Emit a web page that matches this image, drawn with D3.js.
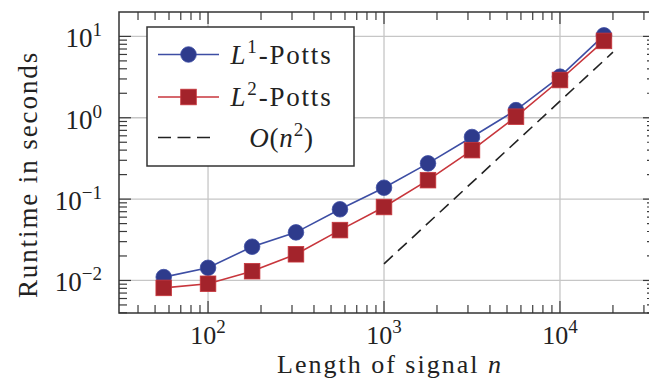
<!DOCTYPE html>
<html><head><meta charset="utf-8">
<script src="https://cdn.jsdelivr.net/npm/d3@7"></script>
<style>html,body{margin:0;padding:0;background:#fff}svg{display:block}
svg text{font-family:"Liberation Serif","DejaVu Serif",serif;fill:#222}</style>
</head><body>
<svg id="c" width="649" height="379"></svg>
<script>
const signalLength = [56, 100, 178, 316, 562, 1000, 1778, 3162, 5623, 10000, 17783];
const l1Runtime = [0.011, 0.0143, 0.026, 0.039, 0.075, 0.138, 0.275, 0.58, 1.24, 3.2, 10.3];
const l2Runtime = [0.0081, 0.0091, 0.013, 0.021, 0.0416, 0.080, 0.171, 0.40, 1.03, 2.91, 8.8];
const refLength = [1000, 20000];
const refRuntime = [0.016, 6.4];
const xTickExp = [2, 3, 4];
const yTickExp = [-2, -1, 0, 1];
const seriesNames = ["L", "1", "-Potts", "L", "2", "-Potts", "O(n", "2", ")"];

const svg = d3.select("#c");
const L = 119, R = 655, T = 12, B = 313;
const x = d3.scaleLog().domain([Math.pow(10, 1.494), Math.pow(10, 4.54)]).range([L, R]);
const y = d3.scaleLog().domain([Math.pow(10, -2.4), Math.pow(10, 1.3)]).range([B, T]);

const blueLine = "#3d4ea4", blueFill = "#2e3b8c";
const redLine = "#c8363c", redFill = "#a3232b";
const FS = 27, SUP = 19, TFS = 26;

// grid
const g = svg.append("g");
g.selectAll(".gx").data(xTickExp).enter().append("line")
  .attr("x1", d => x(Math.pow(10, d))).attr("x2", d => x(Math.pow(10, d)))
  .attr("y1", T).attr("y2", B).attr("stroke", "#c6c6c6").attr("stroke-width", 1.3);
g.selectAll(".gy").data(yTickExp).enter().append("line")
  .attr("y1", d => y(Math.pow(10, d))).attr("y2", d => y(Math.pow(10, d)))
  .attr("x1", L).attr("x2", R).attr("stroke", "#c6c6c6").attr("stroke-width", 1.3);

// ticks
const xMinor = [], yMinor = [];
for (let e = 1; e <= 4; e++) for (let m = 2; m <= 9; m++) {
  const v = m * Math.pow(10, e);
  if (v > x.domain()[0] && v < x.domain()[1]) xMinor.push(v);
}
for (let e = -3; e <= 1; e++) for (let m = 2; m <= 9; m++) {
  const v = m * Math.pow(10, e);
  if (v > y.domain()[0] && v < y.domain()[1]) yMinor.push(v);
}
const tk = svg.append("g").attr("stroke", "#3a3a3a").attr("stroke-width", 1.2);
function xt(vals, len) {
  vals.forEach(v => {
    tk.append("line").attr("x1", x(v)).attr("x2", x(v)).attr("y1", B).attr("y2", B - len);
    tk.append("line").attr("x1", x(v)).attr("x2", x(v)).attr("y1", T).attr("y2", T + len);
  });
}
function yt(vals, len) {
  vals.forEach(v => {
    tk.append("line").attr("y1", y(v)).attr("y2", y(v)).attr("x1", L).attr("x2", L + len);
    tk.append("line").attr("y1", y(v)).attr("y2", y(v)).attr("x1", R).attr("x2", R - len);
  });
}
xt(xMinor, 8); xt(xTickExp.map(e => Math.pow(10, e)), 12);
yt(yMinor, 8); yt(yTickExp.map(e => Math.pow(10, e)), 12);

// frame
svg.append("rect").attr("x", L).attr("y", T).attr("width", R - L).attr("height", B - T)
  .attr("fill", "none").attr("stroke", "#333").attr("stroke-width", 1.5);

// tick labels
function pow10(sel, e) {
  sel.append("tspan").text("10");
  sel.append("tspan").attr("font-size", SUP + "px").attr("dy", -11).text(e < 0 ? "\u2212" + (-e) : String(e));
}
xTickExp.forEach(e => {
  const t = svg.append("text").attr("x", x(Math.pow(10, e))).attr("y", 344)
    .attr("text-anchor", "middle").attr("font-size", TFS + "px");
  pow10(t, e);
});
yTickExp.forEach(e => {
  const t = svg.append("text").attr("x", 102).attr("y", y(Math.pow(10, e)) + 11)
    .attr("text-anchor", "end").attr("font-size", FS + "px");
  pow10(t, e);
});

// axis titles
const xt1 = svg.append("text").attr("x", 390).attr("y", 373).attr("text-anchor", "middle")
  .attr("font-size", TFS + "px").attr("letter-spacing", 2);
xt1.append("tspan").text("Length of signal ");
xt1.append("tspan").attr("font-style", "italic").text("n");
svg.append("text").attr("transform", "translate(37,174.5) rotate(-90)").attr("text-anchor", "middle")
  .attr("font-size", FS + "px").attr("letter-spacing", 1.9).text("Runtime in seconds");

// series
const line = d3.line().x(d => x(d[0])).y(d => y(d[1]));
const l1 = signalLength.map((n, i) => [n, l1Runtime[i]]);
const l2 = signalLength.map((n, i) => [n, l2Runtime[i]]);
const ref = refLength.map((n, i) => [n, refRuntime[i]]);

svg.append("path").datum(ref).attr("d", line).attr("fill", "none")
  .attr("stroke", "#222").attr("stroke-width", 1.6).attr("stroke-dasharray", "12,7");
svg.append("path").datum(l1).attr("d", line).attr("fill", "none").attr("stroke", blueLine).attr("stroke-width", 1.6);
svg.selectAll(".c1").data(l1).enter().append("circle")
  .attr("cx", d => x(d[0])).attr("cy", d => y(d[1])).attr("r", 7.8)
  .attr("fill", blueFill).attr("stroke", blueLine).attr("stroke-width", 0.8);
svg.append("path").datum(l2).attr("d", line).attr("fill", "none").attr("stroke", redLine).attr("stroke-width", 1.6);
const S = 15.6;
svg.selectAll(".s2").data(l2).enter().append("rect")
  .attr("x", d => x(d[0]) - S / 2).attr("y", d => y(d[1]) - S / 2).attr("width", S).attr("height", S)
  .attr("fill", redFill).attr("stroke", redLine).attr("stroke-width", 0.8);

// legend
const lg = svg.append("g");
lg.append("rect").attr("x", 147).attr("y", 27).attr("width", 207).attr("height", 139)
  .attr("fill", "#fff").attr("stroke", "#333").attr("stroke-width", 1.5);
const rows = [54.5, 97, 137.5];
const sx0 = 158, sx1 = 219, tx = 281.5;
lg.append("line").attr("x1", sx0).attr("x2", sx1).attr("y1", rows[0]).attr("y2", rows[0]).attr("stroke", blueLine).attr("stroke-width", 1.6);
lg.append("circle").attr("cx", (sx0 + sx1) / 2).attr("cy", rows[0]).attr("r", 7.8).attr("fill", blueFill).attr("stroke", blueLine).attr("stroke-width", 0.8);
lg.append("line").attr("x1", sx0).attr("x2", sx1).attr("y1", rows[1]).attr("y2", rows[1]).attr("stroke", redLine).attr("stroke-width", 1.6);
lg.append("rect").attr("x", (sx0 + sx1) / 2 - S / 2).attr("y", rows[1] - S / 2).attr("width", S).attr("height", S).attr("fill", redFill).attr("stroke", redLine).attr("stroke-width", 0.8);
lg.append("line").attr("x1", sx0).attr("x2", 212).attr("y1", rows[2]).attr("y2", rows[2]).attr("stroke", "#222").attr("stroke-width", 1.6).attr("stroke-dasharray", "13,6.5");

function legText(row, parts) {
  const t = lg.append("text").attr("x", tx).attr("y", rows[row] + 9).attr("text-anchor", "middle")
    .attr("font-size", FS + "px").attr("letter-spacing", 1.8);
  t.append("tspan").attr("font-style", "italic").text(parts[0]);
  t.append("tspan").attr("font-size", SUP + "px").attr("dy", -11).text(parts[1]);
  t.append("tspan").attr("dy", 11).text(parts[2]);
  return t;
}
legText(0, seriesNames.slice(0, 3));
legText(1, seriesNames.slice(3, 6));
{
  const t = lg.append("text").attr("x", tx).attr("y", rows[2] + 9).attr("text-anchor", "middle")
    .attr("font-size", FS + "px").attr("letter-spacing", 0.8);
  t.append("tspan").attr("font-style", "italic").text("O");
  t.append("tspan").text("(");
  t.append("tspan").attr("font-style", "italic").text("n");
  t.append("tspan").attr("font-size", SUP + "px").attr("dy", -11).text(seriesNames[7]);
  t.append("tspan").attr("dy", 11).text(seriesNames[8]);
}
</script>
</body></html>
